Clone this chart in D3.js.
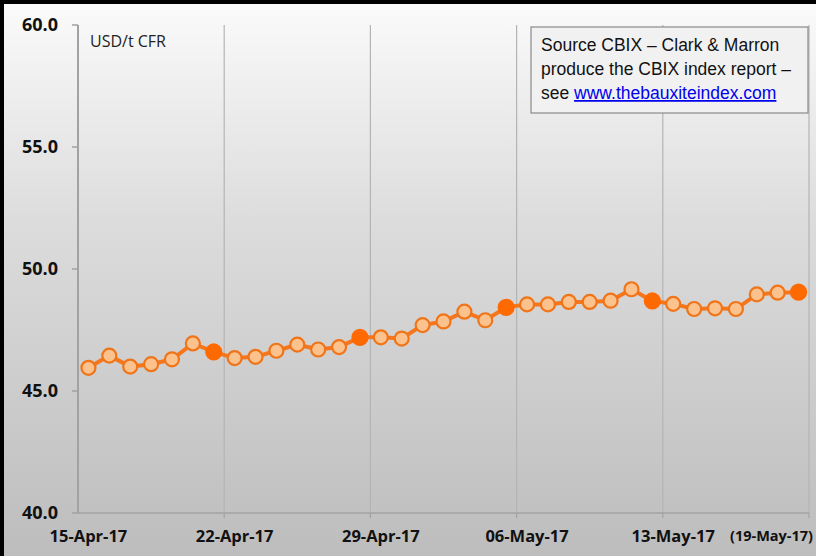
<!DOCTYPE html>
<html>
<head>
  <title>CBIX bauxite index</title>
  <script src="https://d3js.org/d3.v7.min.js"></script>
  <style>
    body { margin: 0; background: #fff; }
    svg { display: block; }
  </style>
</head>
<body>
  <svg width="816" height="556"></svg>
  <script>
    // daily CBIX values, 15-Apr-17 .. 19-May-17 (USD/t CFR)
    var values = [45.95, 46.45, 46.0, 46.1, 46.3, 46.95, 46.6,
                  46.35, 46.4, 46.65, 46.9, 46.7, 46.8, 47.2,
                  47.2, 47.15, 47.7, 47.85, 48.25, 47.9, 48.43,
                  48.55, 48.55, 48.65, 48.65, 48.7, 49.17, 48.69,
                  48.57, 48.36, 48.39, 48.36, 48.96, 49.03, 49.05];
    // weekly (Friday) index points drawn solid
    var weeklyIdx = [6, 13, 20, 27, 34];
    var xLabels = ["15-Apr-17", "22-Apr-17", "29-Apr-17", "06-May-17", "13-May-17"];
    var lastLabel = "(19-May-17)";
    var yTicks = [40, 45, 50, 55, 60];

    var svg = d3.select("svg"),
        margin = {top: 25, right: 7, bottom: 43, left: 78},
        width = +svg.attr("width") - margin.left - margin.right,
        height = +svg.attr("height") - margin.top - margin.bottom;

    // background
    var defs = svg.append("defs");
    var grad = defs.append("linearGradient")
        .attr("id", "bg").attr("x1", 0).attr("y1", 0).attr("x2", 0).attr("y2", 1);
    grad.append("stop").attr("offset", "0%").attr("stop-color", "#fbfbfb");
    grad.append("stop").attr("offset", "40%").attr("stop-color", "#dcdcdc");
    grad.append("stop").attr("offset", "100%").attr("stop-color", "#bdbdbd");
    svg.append("rect").attr("width", 816).attr("height", 556).attr("fill", "url(#bg)");
    svg.append("rect").attr("x", 0).attr("y", 0).attr("width", 816).attr("height", 4).attr("fill", "#000");
    svg.append("rect").attr("x", 0).attr("y", 0).attr("width", 4).attr("height", 556).attr("fill", "#000");

    var x = d3.scaleBand().domain(d3.range(values.length)).range([0, width]),
        y = d3.scaleLinear().domain([40, 60]).range([height, 0]);

    var g = svg.append("g")
        .attr("transform", "translate(" + margin.left + "," + margin.top + ")");

    // vertical gridlines at week boundaries
    var weekBounds = d3.range(7, values.length + 1, 7);
    function bx(d) { return d < values.length ? x(d) : width; }
    g.selectAll(".grid")
      .data(weekBounds)
      .enter().append("line")
      .attr("class", "grid")
      .attr("x1", bx).attr("x2", bx)
      .attr("y1", 0).attr("y2", height)
      .attr("stroke", "#b4b4b4").attr("stroke-width", 1.2);

    // y axis
    g.append("line").attr("x1", 0).attr("x2", 0).attr("y1", 0).attr("y2", height)
      .attr("stroke", "#a2a2a2").attr("stroke-width", 2);
    g.selectAll(".ytick")
      .data(yTicks)
      .enter().append("line")
      .attr("x1", -6).attr("x2", 0)
      .attr("y1", function(d) { return y(d); }).attr("y2", function(d) { return y(d); })
      .attr("stroke", "#a2a2a2").attr("stroke-width", 1.5);
    g.selectAll(".ylab")
      .data(yTicks)
      .enter().append("text")
      .attr("x", -20)
      .attr("y", function(d) { return y(d); })
      .attr("dy", "0.35em")
      .attr("text-anchor", "end")
      .attr("font-family", "'Open Sans', sans-serif")
      .attr("font-weight", "bold")
      .attr("font-size", 18)
      .attr("fill", "#111")
      .text(function(d) { return d3.format(".1f")(d); });

    // x axis
    g.append("line").attr("x1", 0).attr("x2", width).attr("y1", height).attr("y2", height)
      .attr("stroke", "#a2a2a2").attr("stroke-width", 1.5);
    g.selectAll(".xtick")
      .data(weekBounds)
      .enter().append("line")
      .attr("x1", bx).attr("x2", bx)
      .attr("y1", height).attr("y2", height + 5)
      .attr("stroke", "#a2a2a2").attr("stroke-width", 1.2);
    g.selectAll(".xlab")
      .data(xLabels)
      .enter().append("text")
      .attr("x", function(d, i) { return x(i * 7) + x.bandwidth() / 2; })
      .attr("y", height + 29)
      .attr("text-anchor", "middle")
      .attr("font-family", "'Open Sans', sans-serif")
      .attr("font-weight", "bold")
      .attr("font-size", 16.5)
      .attr("fill", "#111")
      .text(function(d) { return d; });
    g.append("text")
      .attr("x", width + 4)
      .attr("y", height + 28)
      .attr("text-anchor", "end")
      .attr("font-family", "'Open Sans', sans-serif")
      .attr("font-weight", "bold")
      .attr("font-size", 14.5)
      .attr("fill", "#111")
      .text(lastLabel);

    // unit label
    g.append("text")
      .attr("x", 12).attr("y", 22)
      .attr("font-family", "'Open Sans', sans-serif")
      .attr("font-size", 16)
      .attr("fill", "#222")
      .text("USD/t CFR");

    // line
    var line = d3.line()
      .x(function(d, i) { return x(i) + x.bandwidth() / 2; })
      .y(function(d) { return y(d); });
    g.append("path")
      .datum(values)
      .attr("d", line)
      .attr("fill", "none")
      .attr("stroke", "#f5761c")
      .attr("stroke-width", 4);

    // markers
    g.selectAll(".pt")
      .data(values)
      .enter().append("circle")
      .attr("class", "pt")
      .attr("cx", function(d, i) { return x(i) + x.bandwidth() / 2; })
      .attr("cy", function(d) { return y(d); })
      .attr("r", function(d, i) { return weeklyIdx.indexOf(i) >= 0 ? 7.5 : 7; })
      .attr("fill", function(d, i) { return weeklyIdx.indexOf(i) >= 0 ? "#ff6a00" : "#fcc28e"; })
      .attr("stroke", function(d, i) { return weeklyIdx.indexOf(i) >= 0 ? "#ff6a00" : "#f07418"; })
      .attr("stroke-width", 2.2);

    // source box
    var box = svg.append("g").attr("transform", "translate(531,27)");
    box.append("rect").attr("width", 277).attr("height", 86)
      .attr("fill", "#f1f1f1").attr("stroke", "#8a8a8a").attr("stroke-width", 1.2);
    var lines = ["Source CBIX \u2013 Clark & Marron", "produce the CBIX index report \u2013"];
    box.selectAll(".src")
      .data(lines)
      .enter().append("text")
      .attr("x", 10)
      .attr("y", function(d, i) { return 24 + i * 24; })
      .attr("font-family", "'Liberation Sans', Arial, sans-serif")
      .attr("font-size", 17.5)
      .attr("fill", "#111")
      .text(function(d) { return d; });
    var t3 = box.append("text").attr("x", 10).attr("y", 72)
      .attr("font-family", "'Liberation Sans', Arial, sans-serif")
      .attr("font-size", 17.5)
      .attr("fill", "#111");
    t3.append("tspan").text("see ");
    t3.append("tspan").attr("fill", "#0000ee").attr("text-decoration", "underline")
      .text("www.thebauxiteindex.com");
  </script>
</body>
</html>
